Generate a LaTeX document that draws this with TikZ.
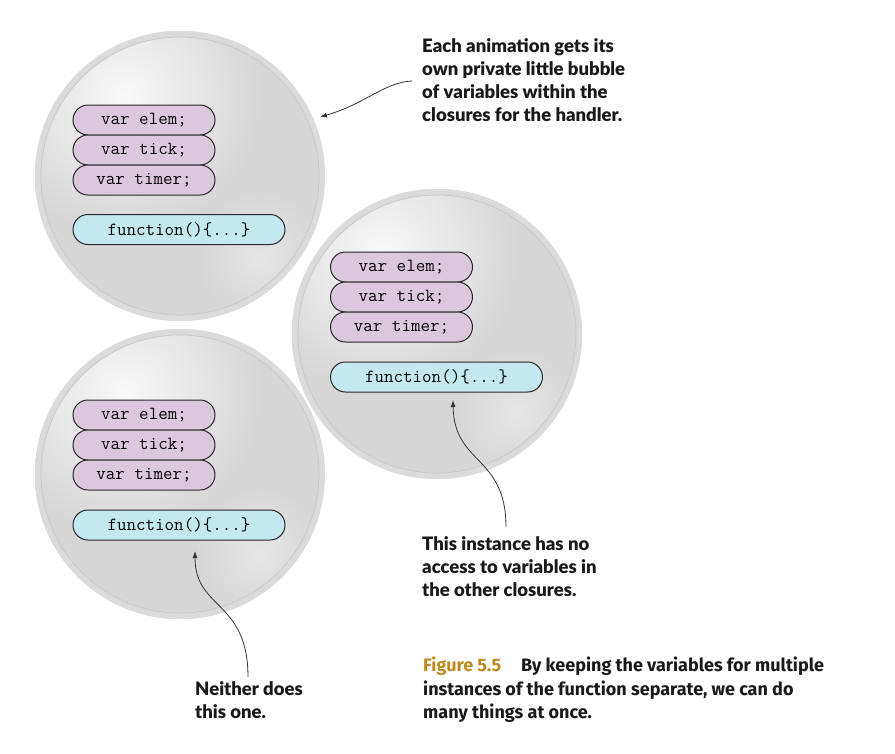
\documentclass[tikz,border=0pt]{standalone}
\usepackage{fontspec}
\setmainfont{Lato}
\newfontfamily\callfont{Lato Black}
\newfontfamily\capfont{Fira Sans}
\usetikzlibrary{shapes.misc,arrows.meta,calc}
\definecolor{varfill}{RGB}{219,200,221}
\definecolor{funfill}{RGB}{196,232,240}
\definecolor{capgold}{RGB}{190,138,30}
\definecolor{pilledge}{RGB}{40,40,40}
\tikzset{
  pill/.style={rounded rectangle, draw=pilledge, line width=1pt, minimum height=30pt, inner sep=0pt,
    font=\fontsize{18.5}{18}\ttfamily},
  varpill/.style={pill, fill=varfill, minimum width=142pt},
  funpill/.style={pill, fill=funfill, minimum width=212pt},
  callout/.style={align=left, anchor=north west, inner sep=0pt, font=\fontsize{18.5}{23}\callfont, text=black!90},
  capt/.style={align=left, anchor=north west, inner sep=0pt, font=\fontsize{18}{23.5}\capfont\bfseries, text=black!90},
  pointer/.style={draw=black!80, line width=0.8pt, -{Latex[length=7pt,width=5pt]}}
}
\newcommand{\bubble}[3]{%
  \begin{scope}
    \clip (#1,#2) circle (#3);
    \fill[gray!32] (#1,#2) circle (#3);
    \shade[inner color=gray!5, outer color=gray!32] ($(#1,#2)+(-0.38*#3,-0.55*#3)$) circle (0.95*#3);
    \shade[inner color=gray!20, outer color=gray!32] ($(#1,#2)+(0.55*#3,0.55*#3)$) circle (0.45*#3);
  \end{scope}
  \draw[gray!28, line width=6pt] (#1,#2) circle (#3-3);
  \draw[gray!45, line width=0.7pt] (#1,#2) circle (#3-6);
}
\begin{document}
\begin{tikzpicture}[x=1pt,y=-1pt]
\useasboundingbox (0,0) rectangle (895,753);
\fill[white] (0,0) rectangle (895,753);
% bubbles
\bubble{180}{176}{145}
\bubble{437}{334}{145}
\bubble{180}{474}{145}
% bubble 1
\node[varpill] (e1) at (144,120) {var elem;};
\node[varpill] (k1) at (144,150) {var tick;};
\node[varpill] (t1) at (144,180) {var timer;};
\node[funpill] (f1) at (179,229.5) {function()\{...\}};
% bubble 2
\node[varpill] (e2) at (401.5,267) {var elem;};
\node[varpill] (k2) at (401.5,297) {var tick;};
\node[varpill] (t2) at (401.5,327) {var timer;};
\node[funpill] (f2) at (436.5,377) {function()\{...\}};
% bubble 3
\node[varpill] (e3) at (144,415) {var elem;};
\node[varpill] (k3) at (144,445) {var tick;};
\node[varpill] (t3) at (144,475) {var timer;};
\node[funpill] (f3) at (179,525) {function()\{...\}};
% callouts
\node[callout] (c1) at (422,38) {Each animation gets its\\own private little bubble\\of variables within the\\closures for the handler.};
\node[callout] (c2) at (422,536) {This instance has no\\access to variables in\\the other closures.};
\node[callout] (c3) at (195,681) {Neither does\\this one.};
\node[capt] (cap) at (423,657) {{\color{capgold}Figure 5.5}\hspace{1.1em}By keeping the variables for multiple\\instances of the function separate, we can do\\many things at once.};
% pointers
\coordinate (a1) at (320,117);
\coordinate (s1) at (412,81);
\coordinate (a2) at (453,400);
\coordinate (s2) at (506,527);
\coordinate (a3) at (195,551);
\coordinate (s3) at (248,677);
\draw[pointer] (s1) .. controls (385,82) and (365,104) .. (a1);
\draw[pointer] (s2) .. controls (506,455) and (454,465) .. (a2);
\draw[pointer] (s3) .. controls (248,600) and (195,610) .. (a3);
\end{tikzpicture}
\end{document}
